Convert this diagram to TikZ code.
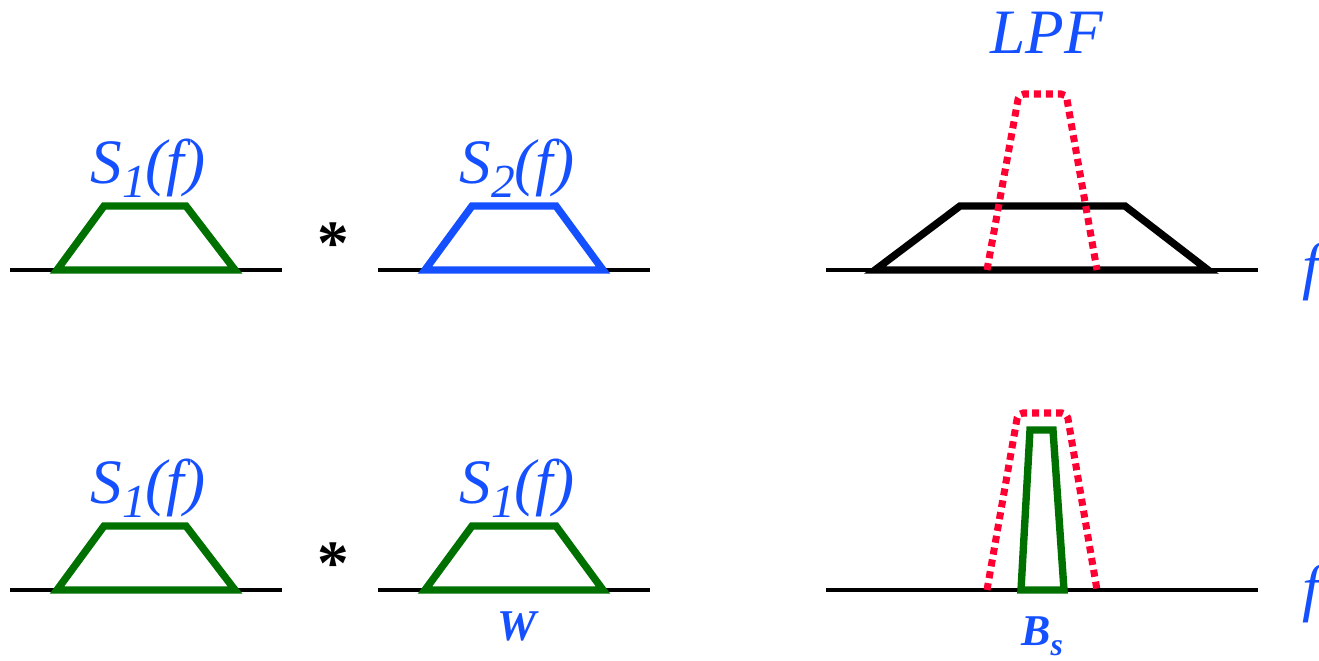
\documentclass[tikz,border=0pt]{standalone}
\usepackage{fontspec}
\setmainfont{Liberation Serif}
\definecolor{sigblue}{RGB}{20,80,255}
\definecolor{siggreen}{RGB}{0,112,0}
\definecolor{lpfred}{RGB}{255,0,51}
\tikzstyle{axisline} = [line width=2.3pt, black]
\tikzstyle{spec} = [line width=4.2pt, line join=miter]
\tikzstyle{lpf} = [line width=4pt, lpfred, dash pattern=on 0.14cm off 0.1cm, rounded corners=0.1cm]
\tikzstyle{lbl} = [text=sigblue, inner sep=0pt, anchor=base, font=\fontsize{36}{40}\selectfont\itshape]
\tikzstyle{small lbl} = [text=sigblue, inner sep=0pt, anchor=base, font=\fontsize{25}{28}\selectfont\bfseries\itshape]
\tikzstyle{conv} = [inner sep=0pt, anchor=base, font=\fontsize{36}{40}\selectfont\bfseries]
\newcommand{\lowsub}[1]{\raisebox{-8pt}{\fontsize{27}{30}\selectfont #1}}

\begin{document}
\begin{tikzpicture}[x=0.02cm, y=-0.02cm]
\useasboundingbox (0,0) rectangle (1319,660);

% OBEN: S1 * S2
\draw [axisline] (10,270) -- (282,270);
\draw [axisline] (378,270) -- (650,270);
\draw [spec, siggreen] (57,270) -- (104,206) -- (186,206) -- (235,270) -- cycle;
\draw [spec, sigblue] (425,270) -- (472,206) -- (556,206) -- (603,270) -- cycle;
\node (s1a) [lbl] at (148,183) {S\lowsub{1}(f)};
\node (s2a) [lbl] at (517,183) {S\lowsub{2}(f)};
\node (conva) [conv] at (333,264) {*};

% OBEN: Ergebnis + LPF
\draw [axisline] (826,270) -- (1258,270);
\draw [spec, black] (875,270) -- (960,206) -- (1125,206) -- (1208,270) -- cycle;
\draw [lpf] (987,270) -- (1019,94) -- (1066,94) -- (1097,270);
\node (lpf) [lbl] at (1047,53) {LPF};
\node (fa) [lbl, anchor=base west] at (1302,287) {f};

% UNTEN: S1 * S1
\draw [axisline] (10,590) -- (282,590);
\draw [axisline] (378,590) -- (650,590);
\draw [spec, siggreen] (57,590) -- (104,526) -- (186,526) -- (235,590) -- cycle;
\draw [spec, siggreen] (425,590) -- (472,526) -- (556,526) -- (603,590) -- cycle;
\node (s1b) [lbl] at (148,503) {S\lowsub{1}(f)};
\node (s1c) [lbl] at (517,503) {S\lowsub{1}(f)};
\node (convb) [conv] at (333,584) {*};
\node (w) [small lbl] at (517,640) {W};

% UNTEN: Ergebnis + LPF
\draw [axisline] (826,590) -- (1258,590);
\draw [lpf] (987,590) -- (1018,413) -- (1067,413) -- (1097,590);
\draw [spec, siggreen] (1021,590) -- (1030,430) -- (1053,430) -- (1064,590) -- cycle;
\node (bs) [small lbl] at (1042,645) {B\raisebox{-6pt}{\fontsize{18}{20}\selectfont s}};
\node (fb) [lbl, anchor=base west] at (1302,609) {f};

\end{tikzpicture}
\end{document}
